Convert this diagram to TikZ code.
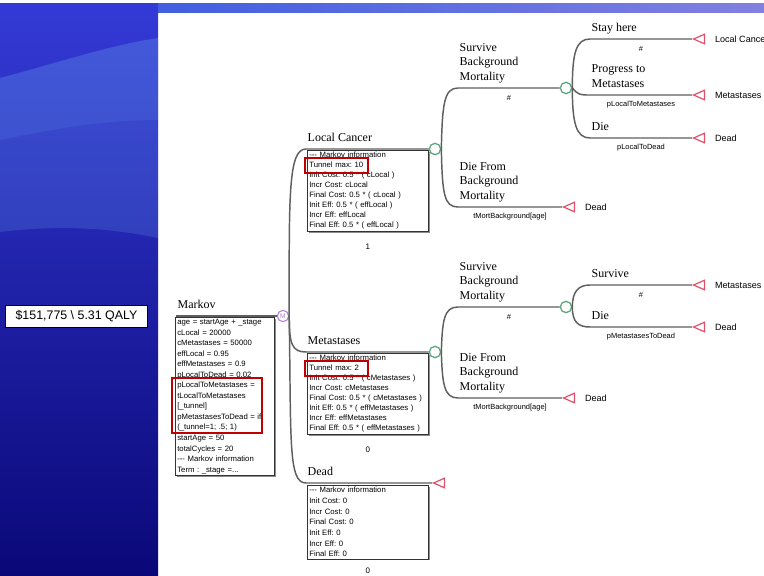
\documentclass[tikz,border=0pt]{standalone}
\usepackage{fontspec}
\setmainfont{Liberation Serif}
\setsansfont{Liberation Sans}
\usetikzlibrary{shapes.geometric, positioning, shadows}

\definecolor{treegray}{RGB}{95,95,95}
\definecolor{chancegreen}{RGB}{95,168,130}
\definecolor{markovpurple}{RGB}{178,127,214}
\definecolor{termred}{RGB}{224,80,106}
\definecolor{markred}{RGB}{192,0,0}
\definecolor{slidetop}{RGB}{52,58,214}
\definecolor{slidemid}{RGB}{30,42,192}
\definecolor{slidebot}{RGB}{10,8,120}
\definecolor{slideband}{RGB}{110,170,245}

\begin{document}
\frenchspacing
\begin{tikzpicture}[
  x=0.75pt, y=-0.75pt,
  tline/.style={draw=treegray, line width=1.1pt},
  markov/.style={circle, draw=markovpurple, fill=white, line width=0.8pt, minimum size=8.5pt,
                 inner sep=0pt, text=markovpurple, font=\sffamily\fontsize{5}{5}\selectfont},
  chance/.style={circle, draw=chancegreen, fill=white, line width=1pt, minimum size=8.5pt, inner sep=0pt},
  term/.style={isosceles triangle, shape border rotate=180, isosceles triangle stretches,
               draw=termred, fill=white, line width=0.9pt, minimum width=7.2pt, minimum height=8.2pt,
               inner sep=0pt},
  infobox/.style={draw=black!80, fill=white, line width=0.5pt, text width=87.75pt, inner sep=1.5pt,
                  align=left, font=\sffamily\fontsize{5.8}{7.5}\selectfont,
                  drop shadow={shadow xshift=1.1pt, shadow yshift=-1.1pt, fill=black!50, opacity=0.9}},
  blabel/.style={pos=0, anchor=south west, text depth=0pt, inner xsep=0.75pt, inner ysep=5.25pt,
                 align=left, font=\fontsize{9}{10.8}\selectfont},
  prob/.style={inner sep=0pt, yshift=-7.5pt, font=\sffamily\fontsize{5.6}{6}\selectfont},
  tlabel/.style={inner sep=0.75pt, font=\sffamily\fontsize{6.8}{7}\selectfont},
  cyclenum/.style={inner sep=0pt, font=\sffamily\fontsize{6}{6}\selectfont},
  tunnelmark/.style={draw=markred, line width=1.5pt},
  qaly/.style={draw=black, fill=white, line width=0.6pt, minimum width=107pt, minimum height=16.5pt,
               inner sep=0pt, font=\sffamily\fontsize{9.3}{10}\selectfont},
]
% Slide background
\path[use as bounding box, fill=white] (0,0) rectangle (764,575);
\shade[top color=slidetop, middle color=slidemid, bottom color=slidebot] (0,3) rectangle (158,575);
\fill[slideband, opacity=0.2] (0,78) .. controls (50,65) and (110,45) .. (158,38)
  -- (158,238) .. controls (100,226) and (50,226) .. (0,232) -- cycle;
\fill[slideband, opacity=0.12] (0,78) .. controls (50,65) and (110,45) .. (158,38)
  -- (158,120) .. controls (100,120) and (50,130) .. (0,140) -- cycle;
\shade[left color={rgb,255:red,65;green,95;blue,225}, middle color={rgb,255:red,140;green,162;blue,235},
       right color={rgb,255:red,130;green,128;blue,225}] (158,3) rectangle (764,12);

% Result of the evaluation
\node[qaly] (result) at (76.5,316) {\$151,775 \textbackslash{} 5.31 QALY};

% Markov root
\coordinate (mkl) at (176,316);
\node[markov] (mk) at (283,316) {M};
\node[infobox, anchor=north west, text width=71.25pt, font=\sffamily\fontsize{5.8}{7.9}\selectfont]
  (mkbox) at (175,317) {age = startAge + \_stage\\cLocal = 20000\\cMetastases = 50000\\effLocal = 0.95\\
  effMetastases = 0.9\\pLocalToDead = 0.02\\pLocalToMetastases =\\tLocalToMetastases\\{[}\_tunnel]\\
  pMetastasesToDead = if\\(\_tunnel=1; .5; 1)\\startAge = 50\\totalCycles = 20\\{-}{-}{-} Markov information\\
  Term : \_stage =...};
\draw[tline] (mkl) -- node[blabel] {Markov} (mk);
\draw[tunnelmark] (172,378) rectangle (262,433);

% Markov states
\coordinate (b1) at (306,149);
\coordinate (b2) at (306,352);
\coordinate (b3) at (306,483);
\node[chance] (lc) at (435,149) {};
\node[chance] (mt) at (435,352) {};
\node[term, anchor=apex] (td) at (432,483) {};

\node[infobox, below right=0.75pt and 0.75pt of b1] (lcbox) {{-}{-}{-} Markov information\\Tunnel max: 10\\
  Init Cost: 0.5 * ( cLocal )\\Incr Cost: cLocal\\Final Cost: 0.5 * ( cLocal )\\Init Eff: 0.5 * ( effLocal )\\
  Incr Eff: effLocal\\Final Eff: 0.5 * ( effLocal )};
\node[infobox, below right=0.75pt and 0.75pt of b2] (mtbox) {{-}{-}{-} Markov information\\Tunnel max: 2\\
  Init Cost: 0.5 * ( cMetastases )\\Incr Cost: cMetastases\\Final Cost: 0.5 * ( cMetastases )\\
  Init Eff: 0.5 * ( effMetastases )\\Incr Eff: effMetastases\\Final Eff: 0.5 * ( effMetastases )};
\node[infobox, below right=1.5pt and 0.75pt of b3, font=\sffamily\fontsize{5.8}{8}\selectfont]
  (dbox) {{-}{-}{-} Markov information\\Init Cost: 0\\Incr Cost: 0\\Final Cost: 0\\Init Eff: 0\\
  Incr Eff: 0\\Final Eff: 0};
\node[cyclenum, below=9pt of lcbox] (lcnum) {1};
\node[cyclenum, below=9pt of mtbox] (mtnum) {0};
\node[cyclenum, below=6.5pt of dbox] (dnum) {0};
\draw[tunnelmark] (305,158) rectangle (368,173);
\draw[tunnelmark] (305,361) rectangle (368,376);

\draw[tline] (mk.east) .. controls +(0,-120) and +(-18,0) .. (b1) -- node[blabel] {Local Cancer} (lc);
\draw[tline] (mk.east) .. controls +(0,28) and +(-14,0) .. (b2) -- node[blabel] {Metastases} (mt);
\draw[tline] (mk.east) .. controls +(2,125) and +(-18,0) .. (b3) -- node[blabel] {Dead} (td.apex);

% Local Cancer subtree
\coordinate (s1) at (458,88);
\coordinate (d1) at (458,207);
\node[chance] (c1) at (566,88) {};
\node[term, anchor=apex] (t1) at (562,207) {};
\node[tlabel, right=6.5pt of t1.lower side] {Dead};
\draw[tline] (lc.east) .. controls +(1,-45) and +(-14,0) .. (s1)
  -- node[blabel] {Survive\\Background\\Mortality} node[prob] {\#} (c1);
\draw[tline] (lc.east) .. controls +(1,45) and +(-14,0) .. (d1)
  -- node[blabel] {Die From\\Background\\Mortality} node[prob] {tMortBackground[age]} (t1.apex);

\coordinate (s11) at (590,39);
\coordinate (s12) at (590,95);
\coordinate (s13) at (590,138);
\foreach \t/\y/\txt in {t11/39/Local Cancer, t12/95/Metastases, t13/138/Dead} {
  \node[term, anchor=apex] (\t) at (692,\y) {};
  \node[tlabel, right=6.5pt of \t.lower side] {\txt};
}
\draw[tline] (c1.east) .. controls +(0,-35) and +(-14,0) .. (s11)
  -- node[blabel] {Stay here} node[prob] {\#} (t11.apex);
\draw[tline] (c1.east) .. controls +(6,7) and +(-10,0) .. (s12)
  -- node[blabel] {Progress to\\Metastases} node[prob] {pLocalToMetastases} (t12.apex);
\draw[tline] (c1.east) .. controls +(0,35) and +(-14,0) .. (s13)
  -- node[blabel] {Die} node[prob] {pLocalToDead} (t13.apex);

% Metastases subtree
\coordinate (s2) at (458,307);
\coordinate (d2) at (458,398);
\node[chance] (c2) at (566,307) {};
\node[term, anchor=apex] (t2) at (562,398) {};
\node[tlabel, right=6.5pt of t2.lower side] {Dead};
\draw[tline] (mt.east) .. controls +(1,-32) and +(-14,0) .. (s2)
  -- node[blabel] {Survive\\Background\\Mortality} node[prob] {\#} (c2);
\draw[tline] (mt.east) .. controls +(1,32) and +(-14,0) .. (d2)
  -- node[blabel] {Die From\\Background\\Mortality} node[prob] {tMortBackground[age]} (t2.apex);

\coordinate (s21) at (590,285);
\coordinate (s22) at (590,327);
\foreach \t/\y/\txt in {t21/285/Metastases, t22/327/Dead} {
  \node[term, anchor=apex] (\t) at (692,\y) {};
  \node[tlabel, right=6.5pt of \t.lower side] {\txt};
}
\draw[tline] (c2.east) .. controls +(0,-15) and +(-12,0) .. (s21)
  -- node[blabel] {Survive} node[prob] {\#} (t21.apex);
\draw[tline] (c2.east) .. controls +(0,15) and +(-12,0) .. (s22)
  -- node[blabel] {Die} node[prob] {pMetastasesToDead} (t22.apex);
\end{tikzpicture}
\end{document}
